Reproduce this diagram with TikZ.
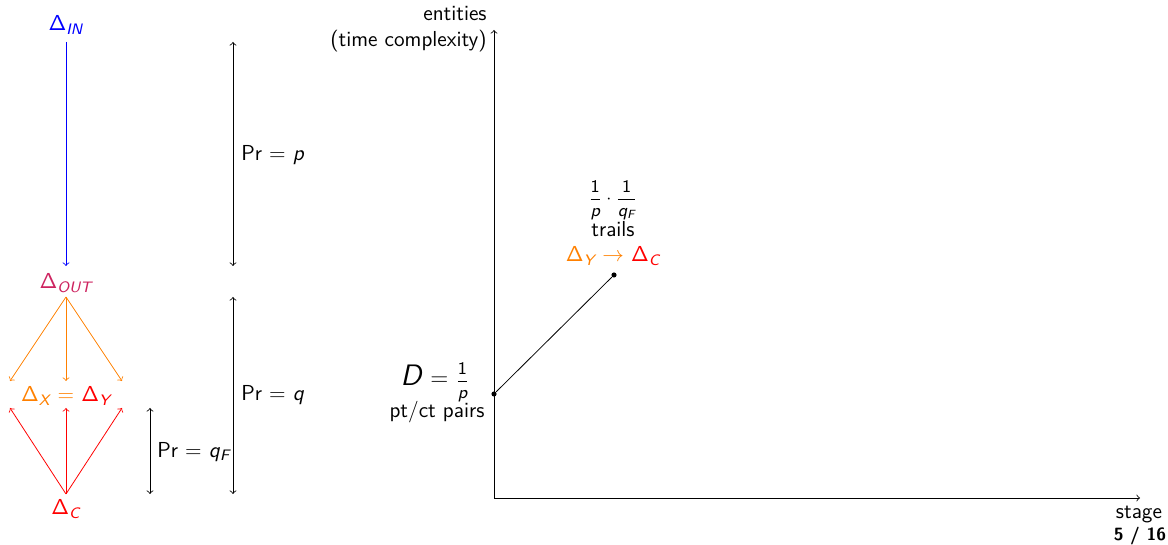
\documentclass[tikz,border=0pt]{standalone}
\usepackage{amsmath}
\renewcommand{\familydefault}{\sfdefault}
\definecolor{outc}{RGB}{205,35,95}
\definecolor{orng}{RGB}{255,128,0}
\newcommand{\Dlt}{Δ}
\newcommand{\sbi}[1]{\textsubscript{\itshape #1}}
\newcommand{\ivar}[1]{\text{\itshape #1}}
\tikzset{
  lbl/.style={inner sep=1pt, font=\fontsize{11}{13}\selectfont},
  arr/.style={->, line width=0.4pt},
  darr/.style={<->, line width=0.4pt},
  dot/.style={circle, fill=black, inner sep=0pt, minimum size=2.6pt}
}
\begin{document}
\begin{tikzpicture}[x=0.507pt, y=-0.507pt]
\useasboundingbox (0,0) rectangle (1168,545);
% left tree
\node[lbl, text=blue] (in) at (66,25) {\Dlt\sbi{IN}};
\node[lbl, text=outc] (out) at (66,283) {\Dlt\sbi{OUT}};
\node[lbl] (xy) at (66,396) {\textcolor{orng}{\Dlt\sbi{X} =} \textcolor{red}{\Dlt\sbi{Y}}};
\node[lbl, text=red] (c) at (66,509) {\Dlt\sbi{C}};
\coordinate (inb) at (66,42);
\coordinate (outa) at (66,266);
\coordinate (outb) at (66,297);
\coordinate (xl) at (10,381);
\coordinate (xm) at (66,381);
\coordinate (xr) at (122,381);
\coordinate (yl) at (10,408);
\coordinate (ym) at (66,408);
\coordinate (yr) at (122,408);
\coordinate (ct) at (66,494);
\draw[arr, blue] (inb) -- (outa);
\draw[arr, orng] (outb) -- (xl);
\draw[arr, orng] (outb) -- (xm);
\draw[arr, orng] (outb) -- (xr);
\draw[arr, red] (ct) -- (yl);
\draw[arr, red] (ct) -- (ym);
\draw[arr, red] (ct) -- (yr);
% probability brackets
\coordinate (pa) at (233,42);
\coordinate (pb) at (233,266);
\coordinate (qa) at (233,297);
\coordinate (qb) at (233,494);
\coordinate (fa) at (150,408);
\coordinate (fb) at (150,494);
\draw[darr] (pa) -- (pb);
\draw[darr] (qa) -- (qb);
\draw[darr] (fa) -- (fb);
\node[lbl, anchor=west] (lp) at (239,155) {Pr = \textit{p}};
\node[lbl, anchor=west] (lq) at (239,395) {Pr = \textit{q}};
\node[lbl, anchor=west] (lf) at (155,452) {Pr = \textit{q}\sbi{F}};
% axes
\coordinate (o) at (494,498);
\coordinate (ytop) at (494,30);
\coordinate (xend) at (1140,498);
\draw[arr] (o) -- (ytop);
\draw[arr] (o) -- (xend);
\node[lbl, anchor=east, align=right] (ylab) at (489,29) {entities\\(time complexity)};
\node[lbl] (xlab) at (1139,515) {stage};
\node[lbl, font=\fontsize{9}{11}\selectfont\bfseries] (page) at (1140,536) {5 / 16};
% points
\node[dot] (d) at (494,394) {};
\node[dot] (t) at (614,275) {};
\draw[line width=0.4pt] (d) -- (t);
\node[lbl, anchor=east] (dl) at (472,382) {{\fontsize{15}{17}\selectfont\textit{D}} {\fontsize{12}{14}\selectfont =} {\fontsize{9}{11}\selectfont$\dfrac{\text{1}}{\ivar{p}}$}};
\node[lbl] (dl2) at (437,412) {pt/ct pairs};
\node[lbl, font=\fontsize{9}{11}\selectfont] (tl) at (613,200) {$\dfrac{\text{1}}{\ivar{p}}\cdot\dfrac{\text{1}}{\ivar{q}\text{\sbi{F}}}$};
\node[lbl] (tl2) at (613,229) {trails};
\node[lbl] (tl3) at (613,256) {\textcolor{orng}{\Dlt\sbi{Y} $\rightarrow$} \textcolor{red}{\Dlt\sbi{C}}};
\end{tikzpicture}
\end{document}
